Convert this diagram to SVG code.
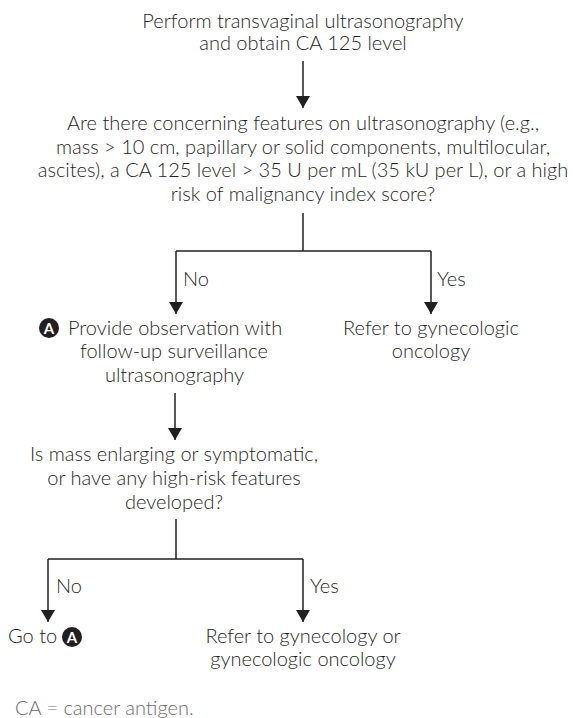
<svg xmlns="http://www.w3.org/2000/svg" width="573" height="718" viewBox="0 0 573 718">
<defs>
<style>
text{font-family:Lato,"Open Sans","Liberation Sans",sans-serif;font-weight:300;font-size:20px;fill:#1f1f1f}
.c{text-anchor:middle}
.note{fill:#6d6d6d}
.ln{fill:none;stroke:#231f20;stroke-width:1.5}
.badge{fill:#231f20}
.bt{font-weight:700;font-size:15px;fill:#fff;text-anchor:middle}
</style>
<marker id="ah" viewBox="0 0 12 15" refX="12" refY="7.5" markerWidth="12" markerHeight="15" markerUnits="userSpaceOnUse" orient="auto">
<path d="M0,0.5 L12,7.5 L0,14.5 Z" fill="#231f20"/>
</marker>
</defs>
<rect width="573" height="718" fill="#fff"/>
<g id="connectors">
<path class="ln" d="M303,61 V108" marker-end="url(#ah)"/>
<path class="ln" d="M303,213 V251 M176,251 H431"/>
<path class="ln" d="M176,251 V314" marker-end="url(#ah)"/>
<path class="ln" d="M431,251 V314" marker-end="url(#ah)"/>
<path class="ln" d="M175,393 V440" marker-end="url(#ah)"/>
<path class="ln" d="M176,519 V559 M48,559 H303"/>
<path class="ln" d="M48,559 V622" marker-end="url(#ah)"/>
<path class="ln" d="M303,559 V622" marker-end="url(#ah)"/>
<text x="183" y="286">No</text>
<text x="437" y="286">Yes</text>
<text x="56" y="593">No</text>
<text x="310" y="593">Yes</text>
</g>
<g id="n1">
<text class="c" x="303" y="28">Perform transvaginal ultrasonography</text>
<text class="c" x="303" y="50">and obtain CA 125 level</text>
</g>
<g id="n2">
<text class="c" x="303" y="130">Are there concerning features on ultrasonography (e.g.,</text>
<text class="c" x="303" y="154">mass &gt; 10 cm, papillary or solid components, multilocular,</text>
<text class="c" x="303" y="177">ascites), a CA 125 level &gt; 35 U per mL (35 kU per L), or a high</text>
<text class="c" x="303" y="201">risk of malignancy index score?</text>
</g>
<g id="n3">
<circle class="badge" cx="49" cy="328" r="10"/>
<text class="bt" x="49" y="333.5">A</text>
<text x="68" y="335">Provide observation with</text>
<text class="c" x="174" y="358">follow-up surveillance</text>
<text class="c" x="174.5" y="382">ultrasonography</text>
</g>
<g id="n4">
<text class="c" x="431" y="335">Refer to gynecologic</text>
<text class="c" x="431" y="358">oncology</text>
</g>
<g id="n5">
<text class="c" x="174" y="461">Is mass enlarging or symptomatic,</text>
<text class="c" x="174" y="485">or have any high-risk features</text>
<text class="c" x="174" y="509">developed?</text>
</g>
<g id="n6">
<text x="8" y="643">Go to</text>
<circle class="badge" cx="72" cy="637" r="10"/>
<text class="bt" x="72" y="642.5">A</text>
</g>
<g id="n7">
<text class="c" x="303" y="643">Refer to gynecology or</text>
<text class="c" x="303" y="666">gynecologic oncology</text>
</g>
<g id="legend">
<text class="note" x="15" y="715">CA = cancer antigen.</text>
</g>
</svg>
